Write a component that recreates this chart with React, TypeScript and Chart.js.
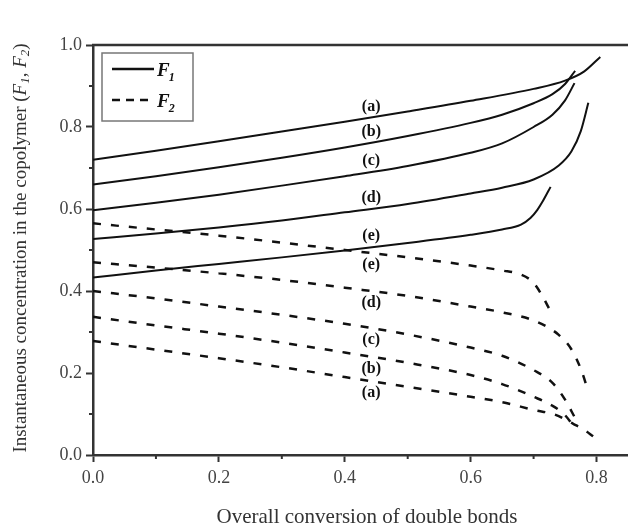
import { useEffect, useRef } from 'react';
import { Chart, registerables } from 'chart.js';
Chart.register(...registerables);

const curveNames = ['(a)', '(b)', '(c)', '(d)', '(e)'];

// F1 (solid) series
const f1aX = [0, 0.1, 0.2, 0.3, 0.4, 0.5, 0.6, 0.7, 0.75, 0.78, 0.806];
const f1aY = [0.72, 0.742, 0.765, 0.789, 0.813, 0.838, 0.864, 0.893, 0.913, 0.935, 0.971];
const f1bX = [0, 0.1, 0.2, 0.3, 0.4, 0.5, 0.6, 0.65, 0.7, 0.73, 0.75, 0.766];
const f1bY = [0.66, 0.68, 0.702, 0.725, 0.75, 0.778, 0.81, 0.83, 0.858, 0.88, 0.905, 0.937];
const f1cX = [0, 0.1, 0.2, 0.3, 0.4, 0.5, 0.6, 0.65, 0.7, 0.73, 0.75, 0.765];
const f1cY = [0.597, 0.615, 0.635, 0.657, 0.68, 0.705, 0.737, 0.76, 0.8, 0.83, 0.865, 0.907];
const f1dX = [0, 0.1, 0.2, 0.3, 0.4, 0.5, 0.6, 0.65, 0.7, 0.74, 0.76, 0.775, 0.787];
const f1dY = [0.527, 0.54, 0.555, 0.572, 0.592, 0.612, 0.638, 0.652, 0.672, 0.706, 0.74, 0.79, 0.859];
const f1eX = [0, 0.1, 0.2, 0.3, 0.4, 0.5, 0.6, 0.65, 0.68, 0.695, 0.706, 0.715, 0.727];
const f1eY = [0.433, 0.45, 0.466, 0.482, 0.499, 0.517, 0.537, 0.55, 0.562, 0.578, 0.598, 0.62, 0.654];

// F2 (dashed) series
const f2aX = [0, 0.1, 0.2, 0.3, 0.4, 0.5, 0.6, 0.65, 0.7, 0.735, 0.763, 0.78, 0.795];
const f2aY = [0.278, 0.257, 0.236, 0.214, 0.19, 0.166, 0.142, 0.129, 0.11, 0.098, 0.076, 0.062, 0.045];
const f2bX = [0, 0.1, 0.2, 0.3, 0.4, 0.5, 0.6, 0.65, 0.7, 0.73, 0.75, 0.766];
const f2bY = [0.337, 0.316, 0.296, 0.274, 0.25, 0.225, 0.195, 0.173, 0.142, 0.12, 0.097, 0.065];
const f2cX = [0, 0.1, 0.2, 0.3, 0.4, 0.5, 0.6, 0.65, 0.7, 0.73, 0.75, 0.765];
const f2cY = [0.4, 0.382, 0.362, 0.342, 0.32, 0.294, 0.262, 0.242, 0.207, 0.176, 0.135, 0.093];
const f2dX = [0, 0.1, 0.2, 0.3, 0.4, 0.5, 0.6, 0.65, 0.7, 0.74, 0.76, 0.775, 0.787];
const f2dY = [0.47, 0.457, 0.443, 0.427, 0.408, 0.388, 0.362, 0.348, 0.328, 0.293, 0.258, 0.21, 0.155];
const f2eX = [0, 0.1, 0.2, 0.3, 0.4, 0.5, 0.6, 0.65, 0.68, 0.7, 0.715, 0.727];
const f2eY = [0.565, 0.55, 0.535, 0.518, 0.5, 0.482, 0.462, 0.45, 0.44, 0.42, 0.385, 0.35];

const f1Series = [[f1aX, f1aY], [f1bX, f1bY], [f1cX, f1cY], [f1dX, f1dY], [f1eX, f1eY]];
const f2Series = [[f2aX, f2aY], [f2bX, f2bY], [f2cX, f2cY], [f2dX, f2dY], [f2eX, f2eY]];

const xMajorTicks = [0, 0.2, 0.4, 0.6, 0.8];
const yMajorTicks = [0, 0.2, 0.4, 0.6, 0.8, 1.0];
const xMinorTicks = [0.1, 0.3, 0.5, 0.7];
const yMinorTicks = [0.1, 0.3, 0.5, 0.7, 0.9];
const labelX = 0.442;

const xTitle = 'Overall conversion of double bonds';
const yTitleParts: [string, string][] = [
  ['Instantaneous concentration in the copolymer (', 'n'],
  ['F', 'i'], ['1', 's'], [', ', 'n'], ['F', 'i'], ['2', 's'], [')', 'n'],
];

const SERIF = '"Liberation Serif", "Times New Roman", serif';
const AXIS = '#333';

function toPts(xs: number[], ys: number[]) {
  return xs.map((x, i) => ({ x, y: ys[i] }));
}
function interp(xs: number[], ys: number[], x: number) {
  for (let i = 1; i < xs.length; i++) {
    if (x <= xs[i]) {
      const t = (x - xs[i - 1]) / (xs[i] - xs[i - 1]);
      return ys[i - 1] + t * (ys[i] - ys[i - 1]);
    }
  }
  return ys[ys.length - 1];
}

const decorPlugin = {
  id: 'decor',
  afterDraw(chart: any) {
    const ctx = chart.ctx;
    const xs = chart.scales.x;
    const ys = chart.scales.y;
    const { left, right, top, bottom } = chart.chartArea;
    ctx.save();
    // top frame
    ctx.strokeStyle = AXIS;
    ctx.lineWidth = 2.5;
    ctx.beginPath();
    ctx.moveTo(left - 1, top);
    ctx.lineTo(right + 2, top);
    ctx.stroke();
    // minor ticks
    ctx.lineWidth = 2;
    xMinorTicks.forEach((v) => {
      const px = xs.getPixelForValue(v);
      ctx.beginPath();
      ctx.moveTo(px, bottom);
      ctx.lineTo(px, bottom + 4);
      ctx.stroke();
    });
    yMinorTicks.forEach((v) => {
      const py = ys.getPixelForValue(v);
      ctx.beginPath();
      ctx.moveTo(left - 4, py);
      ctx.lineTo(left, py);
      ctx.stroke();
    });
    // curve labels
    ctx.fillStyle = '#111';
    ctx.font = `bold 16px ${SERIF}`;
    ctx.textAlign = 'center';
    ctx.textBaseline = 'middle';
    const lx = xs.getPixelForValue(labelX);
    f1Series.forEach(([sx, sy], i) => {
      const py = ys.getPixelForValue(interp(sx, sy, labelX));
      ctx.fillText(curveNames[i], lx, py - 11);
    });
    f2Series.forEach(([sx, sy], i) => {
      const py = ys.getPixelForValue(interp(sx, sy, labelX));
      ctx.fillText(curveNames[i], lx, py + 12);
    });
    // legend
    const bx = 102, by = 53, bw = 91, bh = 68;
    ctx.strokeStyle = '#777';
    ctx.lineWidth = 1.5;
    ctx.strokeRect(bx, by, bw, bh);
    ctx.strokeStyle = '#111';
    ctx.lineWidth = 2.5;
    ctx.beginPath();
    ctx.moveTo(112, 69);
    ctx.lineTo(154, 69);
    ctx.stroke();
    ctx.setLineDash([8, 6]);
    ctx.beginPath();
    ctx.moveTo(112, 100);
    ctx.lineTo(154, 100);
    ctx.stroke();
    ctx.setLineDash([]);
    ctx.textAlign = 'left';
    ctx.textBaseline = 'alphabetic';
    [['1', 76], ['2', 107]].forEach(([sub, base]: any) => {
      ctx.font = `italic bold 19px ${SERIF}`;
      ctx.fillText('F', 157, base);
      const w = ctx.measureText('F').width;
      ctx.font = `italic bold 12px ${SERIF}`;
      ctx.fillText(sub, 157 + w - 1, base + 5);
    });
    // x title
    ctx.fillStyle = '#333';
    ctx.font = `21px ${SERIF}`;
    ctx.textAlign = 'center';
    ctx.textBaseline = 'middle';
    ctx.fillText(xTitle, 367, 517);
    // y title (rotated)
    const fontFor = (k: string) =>
      k === 'n' ? `19px ${SERIF}` : k === 'i' ? `italic 19px ${SERIF}` : `italic 13px ${SERIF}`;
    let total = 0;
    yTitleParts.forEach(([t, k]) => {
      ctx.font = fontFor(k);
      total += ctx.measureText(t).width;
    });
    ctx.translate(21, (top + bottom) / 2 - 2);
    ctx.rotate(-Math.PI / 2);
    ctx.textAlign = 'left';
    ctx.textBaseline = 'middle';
    let cx = -total / 2;
    yTitleParts.forEach(([t, k]) => {
      ctx.font = fontFor(k);
      ctx.fillText(t, cx, k === 's' ? 5 : 0);
      cx += ctx.measureText(t).width;
    });
    ctx.restore();
  },
};

export default function App() {
  const ref = useRef<HTMLCanvasElement>(null);
  useEffect(() => {
    const datasets: any[] = [];
    f1Series.forEach(([sx, sy], i) => {
      datasets.push({
        label: 'F1 ' + curveNames[i],
        data: toPts(sx, sy),
        borderColor: '#111',
        borderWidth: 2,
        showLine: true,
        pointRadius: 0,
        cubicInterpolationMode: 'monotone',
      });
    });
    f2Series.forEach(([sx, sy], i) => {
      datasets.push({
        label: 'F2 ' + curveNames[i],
        data: toPts(sx, sy),
        borderColor: '#111',
        borderWidth: 2.5,
        borderDash: [8, 10],
        showLine: true,
        pointRadius: 0,
        cubicInterpolationMode: 'monotone',
      });
    });
    const chart = new Chart(ref.current!, {
      type: 'scatter',
      data: { datasets },
      plugins: [decorPlugin],
      options: {
        animation: false,
        responsive: false,
        layout: { padding: { top: 45, right: 0, left: 0, bottom: 0 } },
        plugins: { legend: { display: false }, tooltip: { enabled: false } },
        scales: {
          x: {
            type: 'linear',
            min: 0,
            max: 0.85,
            afterFit: (s: any) => { s.height = 70; },
            afterBuildTicks: (s: any) => { s.ticks = xMajorTicks.map((v) => ({ value: v })); },
            ticks: {
              callback: (v: any) => Number(v).toFixed(1),
              font: { family: SERIF, size: 18 },
              color: '#444',
              padding: 5,
              maxRotation: 0,
              autoSkip: false,
            },
            grid: { drawOnChartArea: false, drawTicks: true, tickLength: 7, tickWidth: 2, tickColor: AXIS },
            border: { display: true, color: AXIS, width: 2.5 },
          },
          y: {
            type: 'linear',
            min: 0,
            max: 1.0,
            afterFit: (s: any) => { s.width = 93; },
            afterBuildTicks: (s: any) => { s.ticks = yMajorTicks.map((v) => ({ value: v })); },
            ticks: {
              callback: (v: any) => Number(v).toFixed(1),
              font: { family: SERIF, size: 18 },
              color: '#444',
              padding: 4,
              autoSkip: false,
            },
            grid: { drawOnChartArea: false, drawTicks: true, tickLength: 7, tickWidth: 2, tickColor: AXIS },
            border: { display: true, color: AXIS, width: 2.5 },
          },
        },
      },
    });
    return () => chart.destroy();
  }, []);
  return (
    <div style={{ position: 'fixed', left: 0, top: 0, width: 628, height: 525, background: '#fff' }}>
      <canvas ref={ref} width={628} height={525} style={{ width: 628, height: 525, display: 'block' }} />
    </div>
  );
}
